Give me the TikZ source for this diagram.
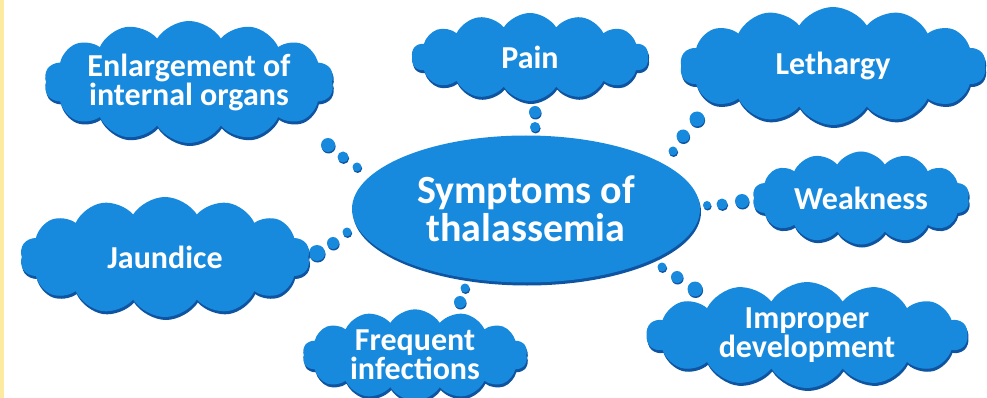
\documentclass[tikz,border=0pt]{standalone}
\usepackage{fontspec}
\setmainfont{Carlito}
\usetikzlibrary{shapes.symbols,shapes.geometric,shadows}
\definecolor{symBlue}{RGB}{24,138,222}
\definecolor{symShade}{RGB}{14,84,160}
\definecolor{edgeYellow}{RGB}{252,234,160}

\begin{document}
\begin{tikzpicture}[
  x=1pt, y=-1pt,
  every node/.style={text=white, align=center, inner sep=0pt,
    font=\bfseries\fontsize{32}{29}\selectfont},
  puff/.style={cloud, cloud puffs=14, cloud puff arc=115, cloud ignores aspect,
    fill=symBlue, general shadow={fill=symShade, shadow xshift=1pt, shadow yshift=-3pt}},
  bubble/.style={circle, fill=symBlue,
    general shadow={fill=symShade, shadow xshift=0.6pt, shadow yshift=-1.5pt}},
  core/.style={ellipse, fill=symBlue, minimum width=348pt, minimum height=147pt,
    general shadow={fill=symShade, shadow xshift=1pt, shadow yshift=-3pt},
    font=\bfseries\fontsize{40}{38}\selectfont}
]
  \useasboundingbox (0,0) rectangle (987,398);
  \fill[edgeYellow] (0,0) rectangle (4,398);

  % --- Gedankenblasen ---
  \foreach \px/\py/\d [count=\k] in {328/145/14, 343/157/11, 357/167/9}
    \node (dotE\k) [bubble, minimum size=\d pt] at (\px,\py) {};
  \foreach \px/\py/\d [count=\k] in {535/112/12, 535/127/10}
    \node (dotP\k) [bubble, minimum size=\d pt] at (\px,\py) {};
  \foreach \px/\py/\d [count=\k] in {697/119/15, 683/136/13, 673/151/9}
    \node (dotL\k) [bubble, minimum size=\d pt] at (\px,\py) {};
  \foreach \px/\py/\d [count=\k] in {742/201/14, 722/204/11, 707/205/8}
    \node (dotW\k) [bubble, minimum size=\d pt] at (\px,\py) {};
  \foreach \px/\py/\d [count=\k] in {317/253/16, 333/243/12, 347/232/9}
    \node (dotJ\k) [bubble, minimum size=\d pt] at (\px,\py) {};
  \foreach \px/\py/\d [count=\k] in {460/302/12, 465/288/9}
    \node (dotF\k) [bubble, minimum size=\d pt] at (\px,\py) {};
  \foreach \px/\py/\d [count=\k] in {695/289/15, 677/277/12, 662/267/9}
    \node (dotI\k) [bubble, minimum size=\d pt] at (\px,\py) {};

  % --- Mitte ---
  \node (thal) [core] at (526,209) {Symptoms of\\thalassemia};

  % --- Symptome ---
  \node (enlarge) [puff, minimum width=288pt, minimum height=122pt] at (189,82)
    {Enlargement of\\internal organs};
  \node (pain) [puff, minimum width=237pt, minimum height=88pt] at (530,57) {Pain};
  \node (lethargy) [puff, minimum width=306pt, minimum height=118pt] at (833,66) {Lethargy};
  \node (weak) [puff, minimum width=217pt, minimum height=93pt] at (861,198) {Weakness};
  \node (jaundice) [puff, minimum width=290pt, minimum height=120pt] at (165,257) {Jaundice};
  \node (infect) [puff, minimum width=225pt, minimum height=85pt] at (415,355)
    {Frequent\\infections};
  \node (improper) [puff, minimum width=321pt, minimum height=94pt] at (807,335)
    {Improper\\development};
\end{tikzpicture}
\end{document}
